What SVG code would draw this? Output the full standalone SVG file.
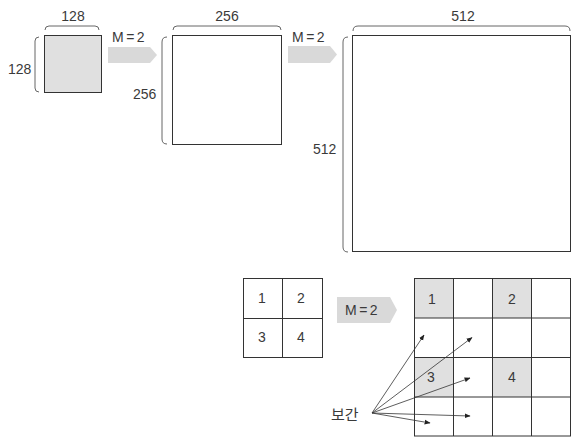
<svg xmlns="http://www.w3.org/2000/svg" width="579" height="446" viewBox="0 0 579 446">
<style>
text{font-family:"Liberation Sans",Arial,"Noto Sans CJK KR",sans-serif;font-size:14px;fill:#3a3a3a}
.m{text-anchor:middle}
.eq{letter-spacing:2.5px}
.sq{stroke:#333;stroke-width:1;fill:#fff}
.sh{fill:#e0e0e0}
.br{fill:none;stroke:#555;stroke-width:0.9}
.ar{fill:#d9d9d9}
.ln{stroke:#333;stroke-width:0.8;fill:none}
.g{stroke:#333;stroke-width:1;fill:none}
</style>
<defs>
<marker id="ah" viewBox="0 0 10 10" refX="9" refY="5" markerWidth="6" markerHeight="6" orient="auto" markerUnits="userSpaceOnUse">
<path d="M0,1 L10,5 L0,9 Z" fill="#222"/>
</marker>
</defs>

<g id="img128">
<rect class="sq sh" x="44.5" y="35.5" width="57" height="57" style="fill:#e0e0e0"/>
<path class="br" d="M45,30 Q45,26 49,26 L95,26 Q99,26 99,30"/>
<path class="br" d="M39,37 Q35,37 35,41 L35,88 Q35,92 39,92"/>
<text class="m" x="73" y="21">128</text>
<text x="8" y="74">128</text>
</g>

<g id="arrow1">
<path class="ar" d="M108,47 L150,47 L157,55 L150,63 L108,63 Z"/>
<text class="eq" x="112" y="42">M=2</text>
</g>

<g id="img256">
<rect class="sq" x="172.5" y="35.5" width="109" height="109"/>
<path class="br" d="M173,30 Q173,26 177,26 L277,26 Q281,26 281,30"/>
<path class="br" d="M167,37 Q162,37 162,42 L162,139 Q162,144 167,144"/>
<text class="m" x="227" y="21">256</text>
<text x="133" y="99">256</text>
</g>

<g id="arrow2">
<path class="ar" d="M288,46 L330,46 L337,54.5 L330,63 L288,63 Z"/>
<text class="eq" x="292" y="42">M=2</text>
</g>

<g id="img512">
<rect class="sq" x="352.5" y="35.5" width="218" height="216"/>
<path class="br" d="M353,31 Q353,26 358,26 L565,26 Q570,26 570,31"/>
<path class="br" d="M348,37 Q343,37 343,42 L343,247 Q343,252 348,252"/>
<text class="m" x="463" y="21">512</text>
<text x="313" y="154">512</text>
</g>

<g id="grid2">
<rect class="g" x="243.5" y="278.5" width="79" height="79"/>
<path class="g" d="M282.5,278.5 V357.5 M243.5,318.5 H322.5"/>
<text class="m" x="262" y="303">1</text>
<text class="m" x="301" y="303">2</text>
<text class="m" x="262" y="342">3</text>
<text class="m" x="301" y="342">4</text>
</g>

<g id="arrow3">
<path class="ar" d="M337,297 L390,297 L397,310 L390,323 L337,323 Z"/>
<text class="eq" x="345" y="315">M=2</text>
</g>

<g id="grid4">
<rect class="sh" x="414.5" y="278.5" width="39" height="39.5"/>
<rect class="sh" x="492.5" y="278.5" width="39" height="39.5"/>
<rect class="sh" x="414.5" y="357.5" width="39" height="39.5"/>
<rect class="sh" x="492.5" y="357.5" width="39" height="39.5"/>
<rect class="g" x="414.5" y="278.5" width="156" height="157.5"/>
<path class="g" d="M453.5,278.5 V436 M492.5,278.5 V436 M531.5,278.5 V436 M414.5,318 H570.5 M414.5,357.5 H570.5 M414.5,397 H570.5"/>
<text class="m" x="432" y="304">1</text>
<text class="m" x="512" y="304">2</text>
<text class="m" x="431" y="382">3</text>
<text class="m" x="512" y="382">4</text>
</g>

<g id="label">
<text x="331" y="420" style="font-size:15px">보간</text>
</g>

<g id="connectors">
<line class="ln" x1="372" y1="413" x2="424" y2="335" marker-end="url(#ah)"/>
<line class="ln" x1="372" y1="413" x2="472" y2="337.5" marker-end="url(#ah)"/>
<line class="ln" x1="372" y1="413" x2="470" y2="378" marker-end="url(#ah)"/>
<line class="ln" x1="372" y1="413" x2="470" y2="416" marker-end="url(#ah)"/>
<line class="ln" x1="372" y1="413" x2="430" y2="423" marker-end="url(#ah)"/>
</g>
</svg>
